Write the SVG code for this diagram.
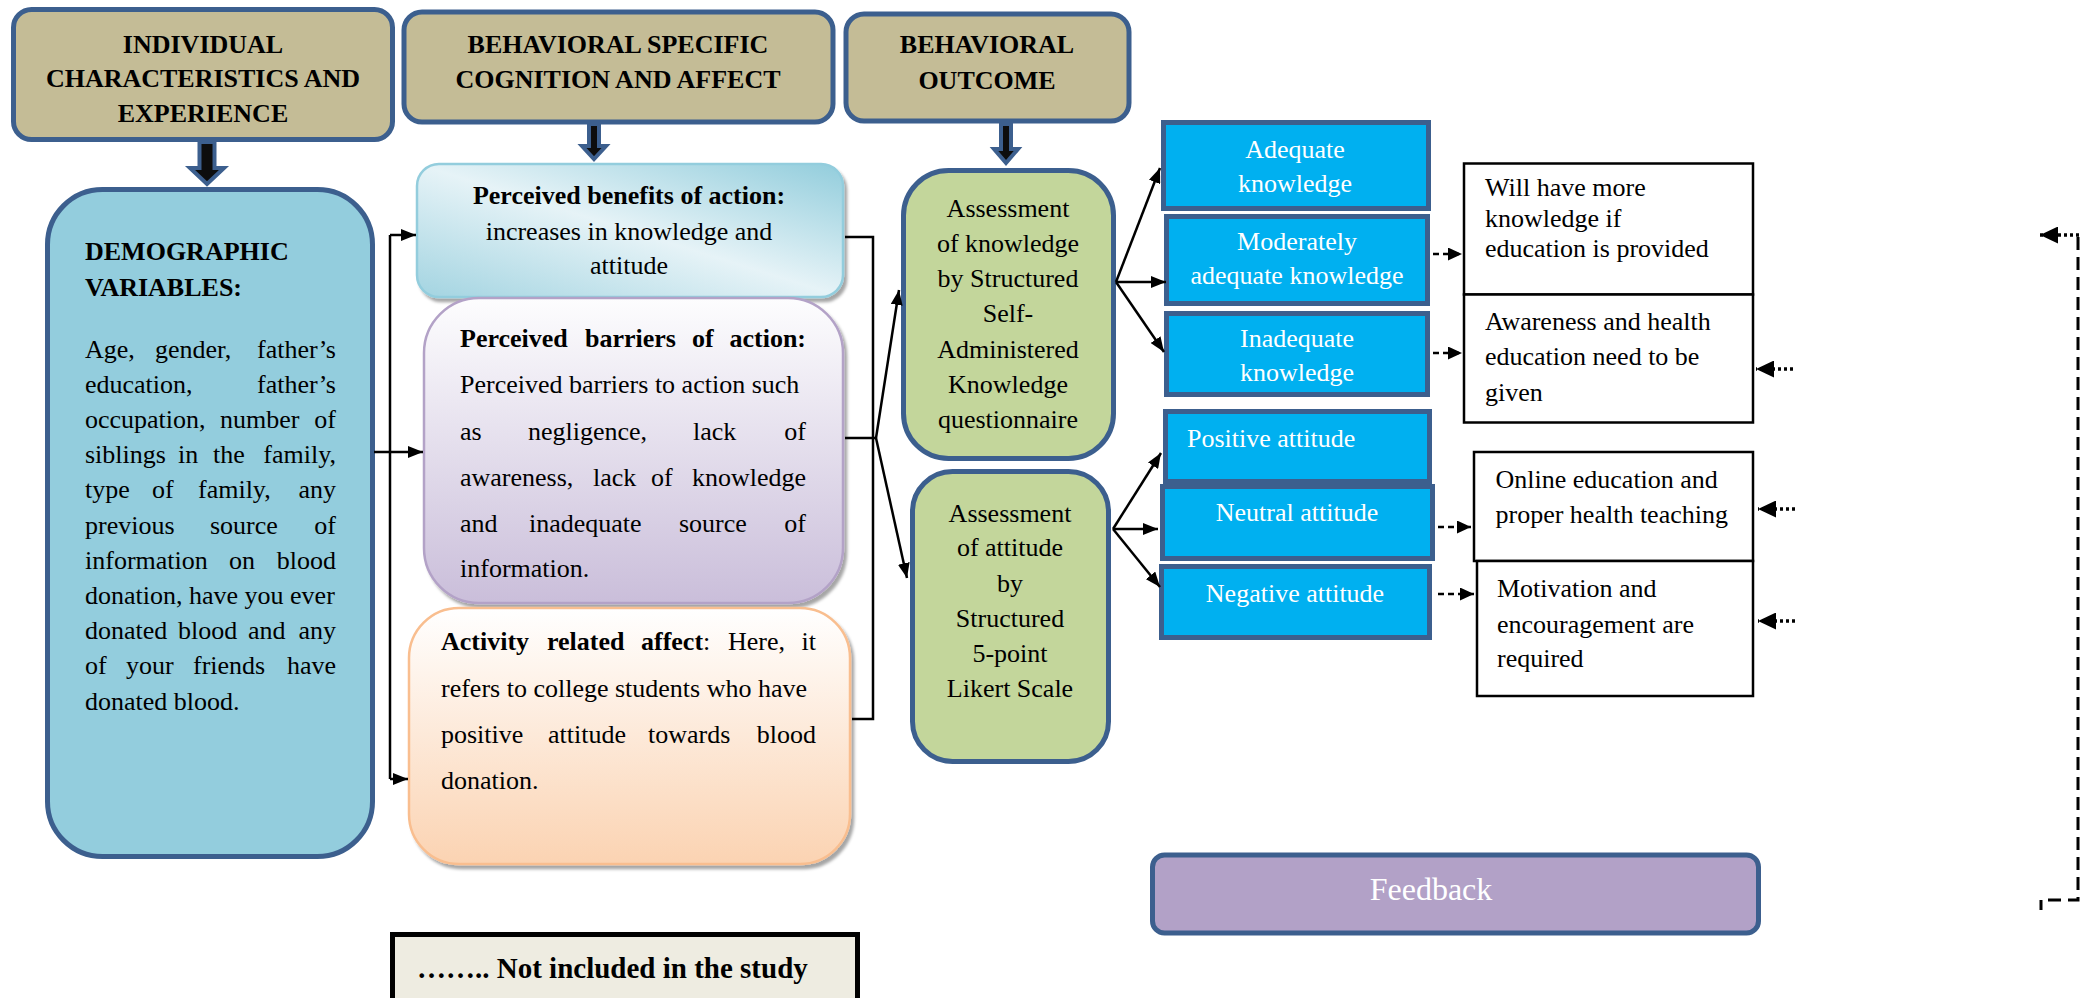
<svg xmlns="http://www.w3.org/2000/svg" width="2087" height="998" viewBox="0 0 2087 998">
<style>
text{font-family:"Liberation Serif","Times New Roman",serif;fill:#000;}
.hd{font-size:26px;font-weight:bold;text-anchor:middle;}
.t{font-size:26px;}
.b{font-weight:bold;}
.c{text-anchor:middle;}
.e{text-anchor:end;}
.w{fill:#fff;}
.hbox{fill:#C4BC96;stroke:#3C5F8E;stroke-width:5;}
.blk{fill:#0d0d0d;stroke:#3C5F8E;stroke-width:4;stroke-linejoin:miter;}
.gbox{fill:#C3D69B;stroke:#3C5F8E;stroke-width:5;}
.bbox{fill:#00B0F0;stroke:#3C5F8E;stroke-width:5;}
.wbox{fill:#fff;stroke:#000;stroke-width:2.5;}
.ln{fill:none;stroke:#000;stroke-width:2.5;}
.dash{fill:none;stroke:#000;stroke-width:2.5;stroke-dasharray:6 4;}
.dot{fill:none;stroke:#000;stroke-width:3.5;stroke-dasharray:3 3;}
.fdash{fill:none;stroke:#000;stroke-width:3;stroke-dasharray:13 7;}
</style>
<defs>
<marker id="ah" viewBox="0 0 10 10" refX="10" refY="5" markerWidth="15" markerHeight="12" markerUnits="userSpaceOnUse" orient="auto" preserveAspectRatio="none"><path d="M0,0 L10,5 L0,10 z" fill="#000"/></marker>
<marker id="ahs" viewBox="0 0 10 10" refX="10" refY="5" markerWidth="14" markerHeight="13" markerUnits="userSpaceOnUse" orient="auto" preserveAspectRatio="none"><path d="M0,0 L10,5 L0,10 z" fill="#000"/></marker>
<marker id="ahb" viewBox="0 0 10 10" refX="10" refY="5" markerWidth="18" markerHeight="17" markerUnits="userSpaceOnUse" orient="auto" preserveAspectRatio="none"><path d="M0,0 L10,5 L0,10 z" fill="#000"/></marker>
<linearGradient id="gBen" x1="1" y1="0" x2="0" y2="1">
<stop offset="0" stop-color="#92CDDC"/><stop offset="0.5" stop-color="#E6F3F7"/><stop offset="1" stop-color="#A3D4E1"/>
</linearGradient>
<linearGradient id="gBar" x1="0" y1="0" x2="0" y2="1">
<stop offset="0" stop-color="#FDFDFE"/><stop offset="1" stop-color="#CABEDA"/>
</linearGradient>
<linearGradient id="gAct" x1="0" y1="0" x2="0" y2="1">
<stop offset="0" stop-color="#FFFFFF"/><stop offset="1" stop-color="#FBD3B2"/>
</linearGradient>
<filter id="sh" x="-5%" y="-5%" width="112%" height="115%"><feDropShadow dx="3" dy="4" stdDeviation="1.5" flood-color="#000" flood-opacity="0.35"/></filter>
</defs>

<g id="header1">
<rect class="hbox" x="13.5" y="9.5" width="379" height="130" rx="18"/>
<text class="hd" x="203" y="53">INDIVIDUAL</text>
<text class="hd" x="203" y="87">CHARACTERISTICS AND</text>
<text class="hd" x="203" y="122">EXPERIENCE</text>
</g>
<g id="header2">
<rect class="hbox" x="404" y="12" width="429" height="110" rx="18"/>
<text class="hd" x="618" y="53">BEHAVIORAL SPECIFIC</text>
<text class="hd" x="618" y="88">COGNITION AND AFFECT</text>
</g>
<g id="header3">
<rect class="hbox" x="846" y="14" width="283" height="107" rx="18"/>
<text class="hd" x="987" y="53">BEHAVIORAL</text>
<text class="hd" x="987" y="89">OUTCOME</text>
</g>

<g id="blockArrows">
<polygon class="blk" points="199.5,142 214.5,142 214.5,168 224,168 207,184 190,168 199.5,168"/>
<polygon class="blk" points="589,124 599,124 599,146 606,146 594,159 582,146 589,146"/>
<polygon class="blk" points="1001,124 1011,124 1011,149 1018,149 1006,163 994,149 1001,149"/>
</g>

<g id="demographic">
<rect x="47.5" y="189.5" width="325" height="667" rx="55" fill="#93CDDD" stroke="#3C5F8E" stroke-width="5"/>
<text class="t b" x="85" y="260">DEMOGRAPHIC</text>
<text class="t b" x="85" y="296">VARIABLES:</text>
<text class="t" y="357.5"><tspan x="85">Age,</tspan><tspan x="155">gender,</tspan></text>
<text class="t e" x="336" y="357.5">father’s</text>
<text class="t" x="85" y="392.7">education,</text>
<text class="t e" x="336" y="392.7">father’s</text>
<text class="t" y="427.9"><tspan x="85">occupation,</tspan><tspan x="220">number</tspan></text>
<text class="t e" x="336" y="427.9">of</text>
<text class="t" y="463.1"><tspan x="85">siblings</tspan><tspan x="178">in</tspan><tspan x="213">the</tspan></text>
<text class="t e" x="336" y="463.1">family,</text>
<text class="t" y="498.3"><tspan x="85">type</tspan><tspan x="152">of</tspan><tspan x="198">family,</tspan></text>
<text class="t e" x="336" y="498.3">any</text>
<text class="t" y="533.5"><tspan x="85">previous</tspan><tspan x="210">source</tspan></text>
<text class="t e" x="336" y="533.5">of</text>
<text class="t" y="568.7"><tspan x="85">information</tspan><tspan x="229">on</tspan></text>
<text class="t e" x="336" y="568.7">blood</text>
<text class="t" x="85" y="603.9">donation, have you ever</text>
<text class="t" y="639.1"><tspan x="85">donated</tspan><tspan x="178">blood</tspan><tspan x="248">and</tspan></text>
<text class="t e" x="336" y="639.1">any</text>
<text class="t" y="674.3"><tspan x="85">of</tspan><tspan x="126">your</tspan><tspan x="193">friends</tspan></text>
<text class="t e" x="336" y="674.3">have</text>
<text class="t" x="85" y="709.5">donated blood.</text>
</g>

<g id="benefits">
<rect x="417" y="164" width="426" height="133" rx="22" fill="url(#gBen)" stroke="#93CDDD" stroke-width="2.5" filter="url(#sh)"/>
<text class="t b c" x="629" y="204">Perceived benefits of action:</text>
<text class="t c" x="629" y="240">increases in knowledge and</text>
<text class="t c" x="629" y="274">attitude</text>
</g>

<g id="barriers">
<rect x="424" y="298" width="419" height="305" rx="55" fill="url(#gBar)" stroke="#B3A2C7" stroke-width="2.5" filter="url(#sh)"/>
<text class="t b" y="347"><tspan x="460">Perceived</tspan><tspan x="585">barriers</tspan><tspan x="692">of</tspan></text>
<text class="t b e" x="806" y="347">action:</text>
<text class="t" x="460" y="393">Perceived barriers to action such</text>
<text class="t" y="440"><tspan x="460">as</tspan><tspan x="528">negligence,</tspan><tspan x="693">lack</tspan></text>
<text class="t e" x="806" y="440">of</text>
<text class="t" y="486"><tspan x="460">awareness,</tspan><tspan x="593">lack</tspan><tspan x="651">of</tspan></text>
<text class="t e" x="806" y="486">knowledge</text>
<text class="t" y="532"><tspan x="460">and</tspan><tspan x="529">inadequate</tspan><tspan x="679">source</tspan></text>
<text class="t e" x="806" y="532">of</text>
<text class="t" x="460" y="577">information.</text>
</g>

<g id="activity">
<rect x="409" y="608" width="441" height="256" rx="50" fill="url(#gAct)" stroke="#F9BE8F" stroke-width="2.5" filter="url(#sh)"/>
<text class="t" y="650"><tspan class="b" x="441">Activity</tspan><tspan class="b" x="547">related</tspan><tspan class="b" x="641">affect</tspan><tspan>:</tspan><tspan x="728">Here,</tspan></text>
<text class="t e" x="816" y="650">it</text>
<text class="t" x="441" y="697">refers to college students who have</text>
<text class="t" y="743"><tspan x="441">positive</tspan><tspan x="548">attitude</tspan><tspan x="648">towards</tspan></text>
<text class="t e" x="816" y="743">blood</text>
<text class="t" x="441" y="789">donation.</text>
</g>

<g id="assessKnowledge">
<rect class="gbox" x="903.5" y="170.5" width="210" height="288" rx="45"/>
<text class="t c" x="1008" y="217">Assessment</text>
<text class="t c" x="1008" y="252">of knowledge</text>
<text class="t c" x="1008" y="287">by Structured</text>
<text class="t c" x="1008" y="322">Self-</text>
<text class="t c" x="1008" y="358">Administered</text>
<text class="t c" x="1008" y="393">Knowledge</text>
<text class="t c" x="1008" y="428">questionnaire</text>
</g>

<g id="assessAttitude">
<rect class="gbox" x="912.5" y="471.5" width="196" height="290" rx="40"/>
<text class="t c" x="1010" y="521.5">Assessment</text>
<text class="t c" x="1010" y="556">of attitude</text>
<text class="t c" x="1010" y="592">by</text>
<text class="t c" x="1010" y="627">Structured</text>
<text class="t c" x="1010" y="662">5-point</text>
<text class="t c" x="1010" y="697">Likert Scale</text>
</g>

<g id="adequate">
<rect class="bbox" x="1163.5" y="122.5" width="265" height="86"/>
<text class="t c w" x="1295" y="158">Adequate</text>
<text class="t c w" x="1295" y="192">knowledge</text>
</g>
<g id="moderate">
<rect class="bbox" x="1166.5" y="216.5" width="261" height="87"/>
<text class="t c w" x="1297" y="250">Moderately</text>
<text class="t c w" x="1297" y="284">adequate knowledge</text>
</g>
<g id="inadequate">
<rect class="bbox" x="1166.5" y="313.5" width="261" height="81"/>
<text class="t c w" x="1297" y="347">Inadequate</text>
<text class="t c w" x="1297" y="381">knowledge</text>
</g>
<g id="positive">
<rect class="bbox" x="1165.5" y="411.5" width="264" height="70"/>
<text class="t w" x="1187" y="447">Positive attitude</text>
</g>
<g id="neutral">
<rect class="bbox" x="1162.5" y="486.5" width="270" height="72"/>
<text class="t c w" x="1297" y="521">Neutral attitude</text>
</g>
<g id="negative">
<rect class="bbox" x="1161.5" y="566.5" width="268" height="71"/>
<text class="t c w" x="1295" y="602">Negative attitude</text>
</g>

<g id="moreKnowledge">
<rect class="wbox" x="1464" y="163.5" width="289" height="131"/>
<text class="t" x="1485" y="196">Will have more</text>
<text class="t" x="1485" y="226.5">knowledge if</text>
<text class="t" x="1485" y="257">education is provided</text>
</g>
<g id="awareness">
<rect class="wbox" x="1464" y="294.5" width="289" height="128"/>
<text class="t" x="1485" y="330">Awareness and health</text>
<text class="t" x="1485" y="365">education need to be</text>
<text class="t" x="1485" y="400.5">given</text>
</g>
<g id="online">
<rect class="wbox" x="1474" y="452" width="279" height="109"/>
<text class="t" x="1495.5" y="487.5">Online education and</text>
<text class="t" x="1495.5" y="523">proper health teaching</text>
</g>
<g id="motivation">
<rect class="wbox" x="1477" y="561" width="276" height="135"/>
<text class="t" x="1497" y="597">Motivation and</text>
<text class="t" x="1497" y="633">encouragement are</text>
<text class="t" x="1497" y="667">required</text>
</g>

<g id="feedback">
<rect x="1152.5" y="855" width="606" height="78" rx="12" fill="#B2A1C7" stroke="#3C5F8E" stroke-width="5"/>
<text class="c w" x="1431" y="900" style="font-size:32px">Feedback</text>
</g>

<g id="legend">
<rect x="392.5" y="934.5" width="465" height="70" fill="#EEECE1" stroke="#000" stroke-width="5"/>
<text class="b" x="417" y="978" style="font-size:29px">…….. Not included in the study</text>
</g>

<g id="connectors">
<path class="ln" d="M374,452 H390 M390,235 V779"/>
<path class="ln" d="M390,235 H416" marker-end="url(#ah)"/>
<path class="ln" d="M390,452 H423" marker-end="url(#ah)"/>
<path class="ln" d="M390,779 H408" marker-end="url(#ah)"/>
<path class="ln" d="M845,237 H873 V719 H852 M845,438 H876"/>
<path class="ln" d="M876,438 L899,290" marker-end="url(#ah)"/>
<path class="ln" d="M876,438 L907,578" marker-end="url(#ah)"/>
<path class="ln" d="M1116,282 L1160,168" marker-end="url(#ah)"/>
<path class="ln" d="M1116,282 H1166" marker-end="url(#ah)"/>
<path class="ln" d="M1116,282 L1164,352" marker-end="url(#ah)"/>
<path class="ln" d="M1113,529 L1161,453" marker-end="url(#ah)"/>
<path class="ln" d="M1113,529 H1158" marker-end="url(#ah)"/>
<path class="ln" d="M1113,529 L1160,587" marker-end="url(#ah)"/>
<path class="dash" d="M1433,254 H1462" marker-end="url(#ahs)"/>
<path class="dash" d="M1433,353 H1462" marker-end="url(#ahs)"/>
<path class="dash" d="M1438,527 H1471" marker-end="url(#ahs)"/>
<path class="dash" d="M1438,594 H1474" marker-end="url(#ahs)"/>
<path class="dot" d="M1793,369 H1756" marker-end="url(#ahb)"/>
<path class="dot" d="M1795,509 H1758" marker-end="url(#ahb)"/>
<path class="dot" d="M1795,621 H1758" marker-end="url(#ahb)"/>
<path class="dot" d="M2079,235 H2040" marker-end="url(#ahb)"/>
<path class="fdash" d="M2078,237 V900 H2041 V910"/>
</g>
</svg>
